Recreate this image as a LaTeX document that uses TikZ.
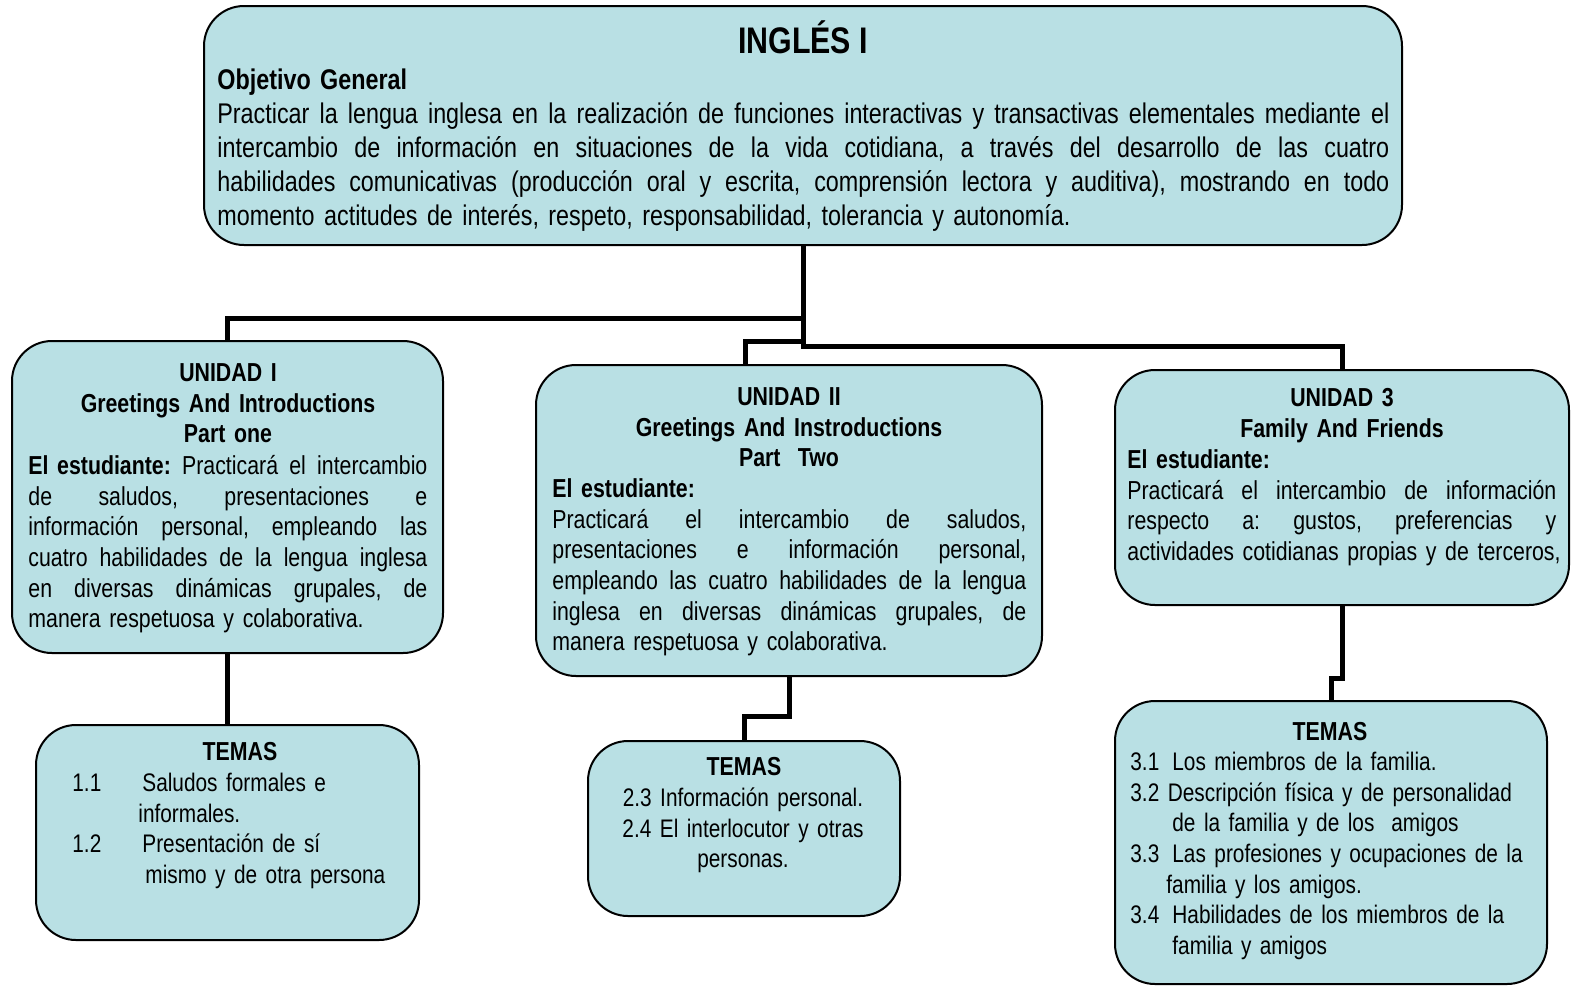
\documentclass[tikz,border=0pt]{standalone}
\usepackage{fontspec}
\setmainfont{Liberation Sans}[FakeStretch=0.82]
\definecolor{boxfill}{RGB}{185,224,228}
\newcommand{\gaps}{\frenchspacing\spaceskip=0.228em plus 3em minus 0.05em\relax}
\newcommand{\objfont}{\fontsize{14.23}{17}\selectfont\gaps}
\newcommand{\unifont}{\fontsize{13}{15.35}\selectfont\gaps}
\newcommand{\temfont}{\fontsize{12.7}{15.35}\selectfont\gaps}
% justified line: equal gaps between the words
\def\jwords#1 #2\jend{#1\if\relax\detokenize{#2}\relax\else\hfil\jwords#2\jend\fi}
\newcommand{\jline}[2]{\hbox to #1{\jwords#2 \jend}}
\setlength{\parindent}{0pt}
\begin{document}
\begin{tikzpicture}[x=0.5pt, y=-0.5pt,
    box/.style={draw, fill=boxfill, rounded corners=20pt, line width=1pt, inner sep=0pt},
    conn/.style={line width=2.5pt},
    txt/.style={inner sep=0pt, font=\unifont}]
\useasboundingbox (0,0) rectangle (1571,987);

% Define the boxes
\node[box, minimum width=599pt, minimum height=119.5pt] (tbox) at (803,125.5) {};
\node[box, minimum width=215.5pt, minimum height=156pt] (u1) at (227.5,497) {};
\node[box, minimum width=253pt, minimum height=155.5pt] (u2) at (789,520.5) {};
\node[box, minimum width=227pt, minimum height=117.5pt] (u3) at (1342,487.5) {};
\node[box, minimum width=191.5pt, minimum height=107.5pt] (t1) at (227.5,832.5) {};
\node[box, minimum width=156pt, minimum height=87.5pt] (t2) at (744,828.5) {};
\node[box, minimum width=216pt, minimum height=141.5pt] (t3) at (1331,842.5) {};

% Draw the connectors
\coordinate (jA) at (803,318);
\coordinate (jB) at (803,341);
\coordinate (jC) at (803,346);
\draw[conn] (tbox.south) -- (jC) -| (u3.north);
\draw[conn] (jA) -| (u1.north);
\draw[conn] (jB) -| ([xshift=-22pt]u2.north);
\draw[conn] (u1.south) -- (t1.north);
\draw[conn] (u2.south) -- ++(0,39) -| (t2.north);
\draw[conn] (u3.south) -- ++(0,72) -| (t3.north);

% General objective
\node[txt, font=\bfseries\fontsize{18.5}{22}\selectfont, anchor=base] (title) at (803,53) {INGLÉS I};
\node[txt, font=\objfont, text width=586pt, anchor=north west] (obj) at (217,65) {\strut\textbf{Objetivo General}\par
  \jline{586pt}{Practicar la lengua inglesa en la realización de funciones interactivas y transactivas elementales mediante el}
  \jline{586pt}{intercambio de información en situaciones de la vida cotidiana, a través del desarrollo de las cuatro}
  \jline{586pt}{habilidades comunicativas (producción oral y escrita, comprensión lectora y auditiva), mostrando en todo}
  momento actitudes de interés, respeto, responsabilidad, tolerancia y autonomía.};

% Unidad I
\node[txt, font=\unifont\bfseries, text width=215pt, align=center, anchor=north] (u1t) at (228,359.5) {\strut UNIDAD I\\Greetings And Introductions\\Part one};
\node[txt, text width=199.5pt, anchor=north west] (u1b) at (28,452.5) {\jline{199.5pt}{\strut\textbf{El\ estudiante:} Practicará el intercambio}
  \jline{199.5pt}{de saludos, presentaciones e}
  \jline{199.5pt}{información personal, empleando las}
  \jline{199.5pt}{cuatro habilidades de la lengua inglesa}
  \jline{199.5pt}{en diversas dinámicas grupales, de}
  manera respetuosa y colaborativa.};

% Unidad II
\node[txt, font=\unifont\bfseries, text width=250pt, align=center, anchor=north] (u2t) at (789,383.5) {\strut UNIDAD II\\Greetings And Instroductions\\Part~ Two};
\node[txt, text width=237pt, anchor=north west] (u2b) at (552,475.5) {\strut\textbf{El estudiante:}\par
  \jline{237pt}{Practicará el intercambio de saludos,}
  \jline{237pt}{presentaciones e información personal,}
  \jline{237pt}{empleando las cuatro habilidades de la lengua}
  \jline{237pt}{inglesa en diversas dinámicas grupales, de}
  manera respetuosa y colaborativa.};

% Unidad 3
\node[txt, font=\unifont\bfseries, text width=225pt, align=center, anchor=north] (u3t) at (1342,384.5) {\strut UNIDAD 3\\Family And Friends};
\node[txt, text width=215pt, anchor=north west] (u3b) at (1127,446.5) {\strut\textbf{El estudiante:}\par
  \jline{214.5pt}{Practicará el intercambio de información}
  \jline{214.5pt}{respecto a: gustos, preferencias y}
  \mbox{actividades cotidianas propias y de terceros,}};

% Temas
\node[txt, font=\unifont\bfseries, anchor=base] (t1t) at (240,760) {TEMAS};
\node[txt, font=\temfont, text width=170pt, align=left, anchor=north west] (t1b) at (72,769.5) {\strut\makebox[35pt][l]{1.1}Saludos formales e\\
  \hspace*{33pt}informales.\\
  \makebox[35pt][l]{1.2}Presentación de sí\\
  \hspace*{36.5pt}mismo y de otra persona};
\node[txt, font=\unifont\bfseries, anchor=base] (t2t) at (744,775) {TEMAS};
\node[txt, font=\temfont, text width=150pt, align=center, anchor=north] (t2b) at (743,784.5) {\strut 2.3 Información personal.\\2.4 El interlocutor y otras\\personas.};
\node[txt, font=\unifont\bfseries, anchor=base] (t3t) at (1330,740) {TEMAS};
\node[txt, font=\temfont, text width=210pt, align=left, anchor=north west] (t3b) at (1130,748.5) {\strut\makebox[21pt][l]{3.1}Los miembros de la familia.\\
  3.2 Descripción física y de personalidad\\
  \hspace*{21pt}de la familia y de los~ amigos\\
  \makebox[21pt][l]{3.3}Las profesiones y ocupaciones de la\\
  \hspace*{18pt}familia y los amigos.\\
  \makebox[21pt][l]{3.4}Habilidades de los miembros de la\\
  \hspace*{21pt}familia y amigos};
\end{tikzpicture}
\end{document}
